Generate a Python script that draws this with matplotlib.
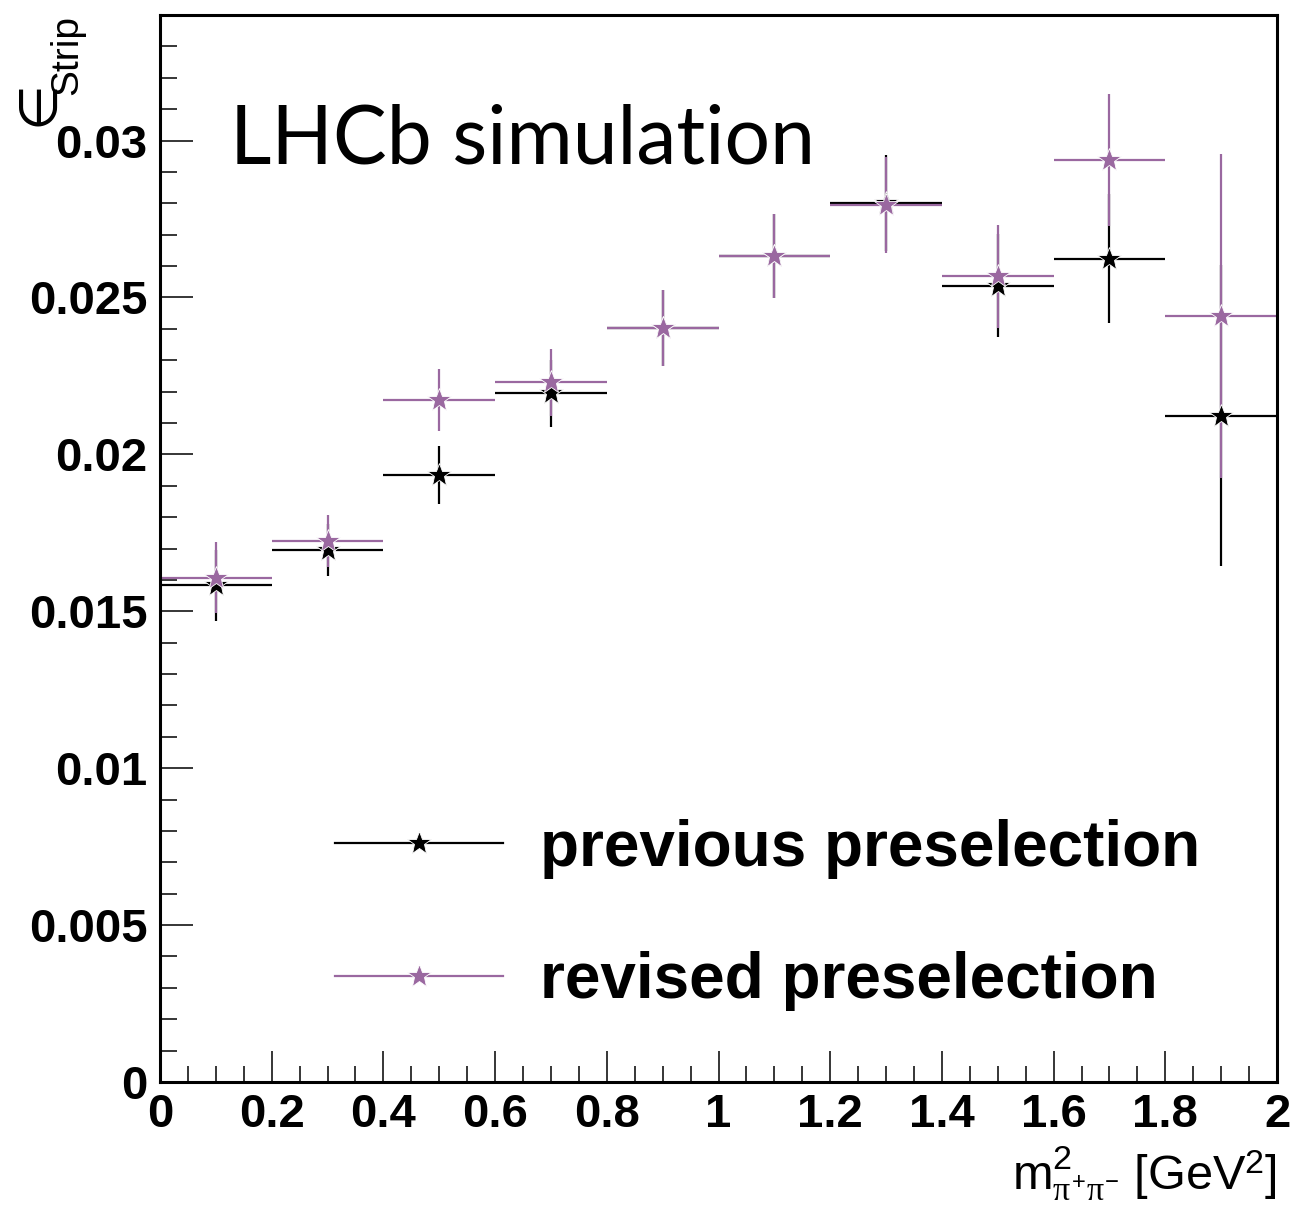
import matplotlib
matplotlib.use("Agg")
import matplotlib.pyplot as plt
from matplotlib.lines import Line2D
from matplotlib.ticker import MultipleLocator

# ---- data ----
bin_centers = [0.1, 0.3, 0.5, 0.7, 0.9, 1.1, 1.3, 1.5, 1.7, 1.9]
bin_halfwidth = [0.1] * 10
prev_eff = [0.01583, 0.01694, 0.01934, 0.02194, 0.02403, 0.02631, 0.02800, 0.02538, 0.02624, 0.02123]
prev_err = [0.00113, 0.00083, 0.00093, 0.00106, 0.00120, 0.00134, 0.00153, 0.00163, 0.00206, 0.00480]
rev_eff = [0.01607, 0.01723, 0.02173, 0.02229, 0.02403, 0.02631, 0.02796, 0.02568, 0.02939, 0.02441]
rev_err = [0.00114, 0.00083, 0.00098, 0.00106, 0.00120, 0.00134, 0.00153, 0.00164, 0.00210, 0.00515]
labels = ["previous preselection", "revised preselection"]
yticks = [0, 0.005, 0.01, 0.015, 0.02, 0.025, 0.03]
ytick_labels = ["0", "0.005", "0.01", "0.015", "0.02", "0.025", "0.03"]
xticks = [0, 0.2, 0.4, 0.6, 0.8, 1.0, 1.2, 1.4, 1.6, 1.8, 2.0]
xtick_labels = ["0", "0.2", "0.4", "0.6", "0.8", "1", "1.2", "1.4", "1.6", "1.8", "2"]

BLACK = "#000000"
PURPLE = "#9a68a0"

plt.rcParams["font.family"] = ["Liberation Sans", "DejaVu Sans"]
plt.rcParams["mathtext.fontset"] = "custom"
plt.rcParams["mathtext.rm"] = "Liberation Sans"
plt.rcParams["mathtext.it"] = "Liberation Serif"
plt.rcParams["mathtext.bf"] = "Liberation Sans:bold"

fig = plt.figure(figsize=(13.1, 12.14), dpi=100)
ax = fig.add_axes([160 / 1310, 1 - 1082 / 1214, (1277 - 160) / 1310, (1082 - 15) / 1214])

MS = 18
for eff, err, col in [(prev_eff, prev_err, BLACK), (rev_eff, rev_err, PURPLE)]:
    ax.errorbar(bin_centers, eff, xerr=bin_halfwidth, yerr=err, fmt="*", color=col,
                ecolor=col, elinewidth=1.6, capsize=0, markersize=MS,
                markeredgecolor="white", markeredgewidth=0.6)

ax.set_xlim(0, 2)
ax.set_ylim(0, 0.034)

ax.set_xticks(xticks)
ax.set_xticklabels(xtick_labels)
ax.set_yticks(yticks)
ax.set_yticklabels(ytick_labels)
ax.xaxis.set_minor_locator(MultipleLocator(0.05))
ax.yaxis.set_minor_locator(MultipleLocator(0.001))

ax.tick_params(axis="both", which="both", direction="in", top=False, right=False, width=1.1)
ax.tick_params(axis="y", which="major", length=24, pad=9)
ax.tick_params(axis="y", which="minor", length=12)
ax.tick_params(axis="x", which="major", length=22, pad=8)
ax.tick_params(axis="x", which="minor", length=11.5)
for lab in ax.get_xticklabels() + ax.get_yticklabels():
    lab.set_fontsize(34)
    lab.set_fontweight("bold")

for sp in ax.spines.values():
    sp.set_linewidth(2.2)

# LHCb label
ax.text(0.0627, 0.861, "LHCb simulation", transform=ax.transAxes, fontsize=58,
        family=["Lato", "DejaVu Sans"], va="baseline", ha="left")

# legend
handles = [Line2D([], [], color=BLACK, marker="*", markersize=MS, lw=1.6,
                  markeredgecolor="white", markeredgewidth=0.6),
           Line2D([], [], color=PURPLE, marker="*", markersize=MS, lw=1.6,
                  markeredgecolor="white", markeredgewidth=0.6)]
leg = ax.legend(handles, labels, loc="center left", bbox_to_anchor=(0.1567, 0.1565),
                frameon=False, numpoints=1, handlelength=2.63, handletextpad=0.58,
                labelspacing=1.14, borderpad=0, borderaxespad=0,
                prop={"family": "Liberation Sans", "weight": "bold", "size": 46})

# axis titles
fig.text(1277 / 1310, 1 - 1190 / 1214,
         r"$\mathrm{m}^{2}_{\pi^{+}\pi^{-}}$ [GeV$^{2}$]", ha="right", va="baseline", fontsize=35)
fig.text(38 / 1310, 1 - 103 / 1214, "\u2208", rotation=90, ha="center", va="center",
         fontsize=38, family=["DejaVu Sans"])
fig.text(67 / 1310, 1 - 55 / 1214, "Strip", rotation=90, ha="center", va="center", fontsize=28)

fig.savefig("out.png", dpi=100)
